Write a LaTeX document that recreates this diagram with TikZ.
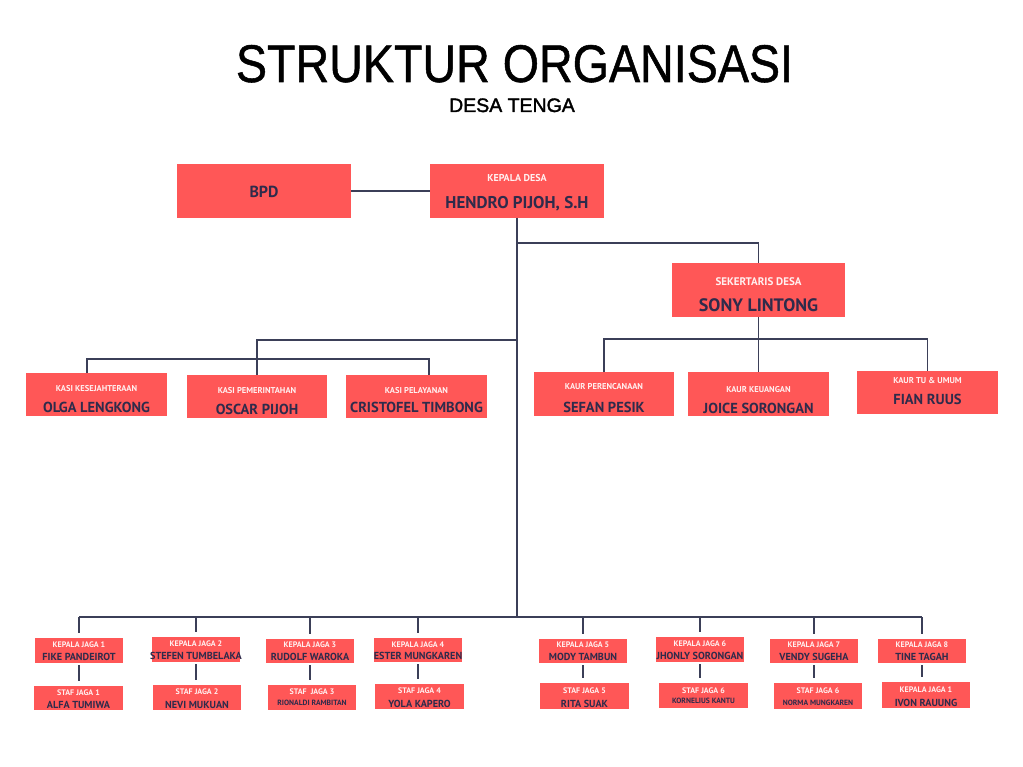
\documentclass[tikz,border=0pt]{standalone}
\usepackage{fontspec}
\setmainfont{Liberation Sans}
\newfontfamily\titlefont{Liberation Sans}[FakeBold=1]
\newfontfamily\subfont{Liberation Sans}[FakeBold=1.8]
\newfontfamily\boxfont{PT Sans}
\usepackage{graphicx}
\definecolor{boxred}{HTML}{FF5757}
\definecolor{namecol}{HTML}{2F2B4B}
\definecolor{labcol}{HTML}{FFF0F0}
\definecolor{linecol}{HTML}{3B3F58}
\newcommand\orgbox[9]{%
  \pgfmathsetmacro\bxc{(#2+#4)/2}%
  \pgfmathsetmacro\bxm{(#3+#5)/2}%
  \pgfmathsetmacro\bxw{#4-#2}%
  \pgfmathsetmacro\bxh{#5-#3}%
  \node[box, minimum width=\bxw pt, minimum height=\bxh pt] (#1) at (\bxc,\bxm) {};
  \node[lab] (#1-l) at (\bxc,#7) {#6};
  \node[nam] (#1-n) at (\bxc,#9) {#8};
}
\begin{document}
\begin{tikzpicture}[x=1pt,y=-1pt,
  box/.style={fill=boxred, draw=none, inner sep=0pt, outer sep=0pt},
  labbase/.style={anchor=base, inner sep=0pt, text=labcol},
  nambase/.style={anchor=base, inner sep=0pt, text=namecol},
  conn/.style={draw=linecol, line width=1.1pt},
  lab/.style={labbase},
  nam/.style={nambase}]
\useasboundingbox (0,0) rectangle (1023,767);
\fill[white] (0,0) rectangle (1023,767);

% titles
\node[anchor=base, inner sep=0pt, font=\titlefont\fontsize{53}{53}\selectfont] (title) at (514.5,82) {\scalebox{0.88}[1]{STRUKTUR ORGANISASI}};
\node[anchor=base, inner sep=0pt, font=\subfont\fontsize{19.5}{19.5}\selectfont] (subtitle) at (512,112) {DESA TENGA};

% top tier
\begin{scope}[lab/.style={labbase, font=\boxfont\bfseries\fontsize{10}{10}\selectfont},
              nam/.style={nambase, font=\boxfont\bfseries\fontsize{17}{17}\selectfont}]
\node[box, minimum width=174pt, minimum height=54pt] (bpd) at (264,191) {};
\node[nambase, font=\boxfont\bfseries\fontsize{16}{16}\selectfont] (bpd-n) at (264,198) {BPD};
\orgbox{kd}{430}{164}{604}{218}{KEPALA DESA}{182}{HENDRO PIJOH, S.H}{209}
\end{scope}
\begin{scope}[lab/.style={labbase, font=\boxfont\bfseries\fontsize{11}{11}\selectfont},
              nam/.style={nambase, font=\boxfont\bfseries\fontsize{18}{18}\selectfont}]
\orgbox{sek}{672}{263}{845}{317}{SEKERTARIS DESA}{286}{SONY LINTONG}{312}
\end{scope}

% second tier
\begin{scope}[lab/.style={labbase, font=\boxfont\bfseries\fontsize{8.5}{8.5}\selectfont},
              nam/.style={nambase, font=\boxfont\bfseries\fontsize{14.5}{14.5}\selectfont}]
\orgbox{olga}{26}{373}{167}{416}{KASI KESEJAHTERAAN}{391}{OLGA LENGKONG}{412}
\orgbox{oscar}{187}{375}{327}{418}{KASI PEMERINTAHAN}{393}{OSCAR PIJOH}{414}
\orgbox{cris}{346}{375}{487}{418}{KASI PELAYANAN}{393}{CRISTOFEL TIMBONG}{412}
\orgbox{sefan}{534}{372}{674}{416}{KAUR PERENCANAAN}{389}{SEFAN PESIK}{412}
\orgbox{joice}{688}{372}{829}{416}{KAUR KEUANGAN}{392}{JOICE SORONGAN}{413}
\orgbox{fian}{857}{371}{998}{414}{KAUR TU \& UMUM}{384}{FIAN RUUS}{404}
\end{scope}

% jaga rows
\begin{scope}[lab/.style={labbase, font=\boxfont\bfseries\fontsize{8}{8}\selectfont},
              nam/.style={nambase, font=\boxfont\bfseries\fontsize{10.2}{10.2}\selectfont}]
\orgbox{jg1}{35}{638}{123}{663}{KEPALA JAGA 1}{647}{FIKE PANDEIROT}{660}
\orgbox{jg2}{152}{637}{240}{662}{KEPALA JAGA 2}{646}{STEFEN TUMBELAKA}{659}
\orgbox{jg3}{266}{639}{354}{663}{KEPALA JAGA 3}{647}{RUDOLF WAROKA}{660}
\orgbox{jg4}{374}{638}{462}{662}{KEPALA JAGA 4}{647}{ESTER MUNGKAREN}{659}
\orgbox{jg5}{539}{639}{627}{663}{KEPALA JAGA 5}{647}{MODY TAMBUN}{660}
\orgbox{jg6}{656}{637}{744}{662}{KEPALA JAGA 6}{646}{JHONLY SORONGAN}{659}
\orgbox{jg7}{770}{639}{858}{663}{KEPALA JAGA 7}{647}{VENDY SUGEHA}{660}
\orgbox{jg8}{878}{639}{966}{663}{KEPALA JAGA 8}{647}{TINE TAGAH}{660}
\orgbox{sj1}{34}{686}{123}{710}{STAF JAGA 1}{695}{ALFA TUMIWA}{708}
\orgbox{sj2}{153}{685}{241}{710}{STAF JAGA 2}{694}{NEVI MUKUAN}{708}
\orgbox{sj4}{375}{684}{464}{709}{STAF JAGA 4}{693}{YOLA KAPERO}{707}
\orgbox{sj5}{540}{683}{629}{709}{STAF JAGA 5}{693}{RITA SUAK}{707}
\orgbox{sj8}{882}{682}{970}{708}{KEPALA JAGA 1}{692}{IVON RAUUNG}{706}
\end{scope}
\begin{scope}[lab/.style={labbase, font=\boxfont\bfseries\fontsize{8}{8}\selectfont},
              nam/.style={nambase, font=\boxfont\bfseries\fontsize{7.6}{7.6}\selectfont}]
\orgbox{sj3}{268}{685}{356}{710}{STAF\ \ JAGA 3}{694}{RIONALDI RAMBITAN}{705}
\orgbox{sj6}{659}{683}{748}{708}{STAF JAGA 6}{693}{KORNELIUS KANTU}{703}
\orgbox{sj7}{774}{683}{862}{709}{STAF JAGA 6}{693}{NORMA MUNGKAREN}{705}
\end{scope}

% connectors
\coordinate (sekbr) at (517,243);
\coordinate (kasiup) at (517,340);
\coordinate (kl) at (87,359);
\coordinate (kr) at (429,359);
\coordinate (kaurbus) at (758.5,339);
\coordinate (bus) at (517,617);

\draw[conn] (bpd.east) -- (kd.west);
\draw[conn] (kd.south) -- (bus);
\draw[conn] (sekbr) -| (sek.north);
\draw[conn] (sek.south) -- (joice.north);
\draw[conn] (sefan.north) |- (kaurbus) -| (fian.north);
\draw[conn] (kasiup) -| (oscar.north);
\draw[conn] (kl |- olga.north) -- (kl) -- (kr) -- (kr |- cris.north);

\draw[conn] (jg1.north |- bus) -- (jg8.north |- bus);
\foreach \j in {jg1,jg2,jg3,jg4,jg5,jg6,jg7,jg8}{
  \draw[conn, shorten >=5pt] (\j.north |- bus) -- (\j.north);
}
\foreach \a/\b in {jg1/sj1,jg2/sj2,jg3/sj3,jg4/sj4,jg5/sj5,jg6/sj6,jg7/sj7,jg8/sj8}{
  \draw[conn, shorten <=2pt, shorten >=5pt] (\a.south) -- (\a.south |- \b.north);
}
\end{tikzpicture}
\end{document}
